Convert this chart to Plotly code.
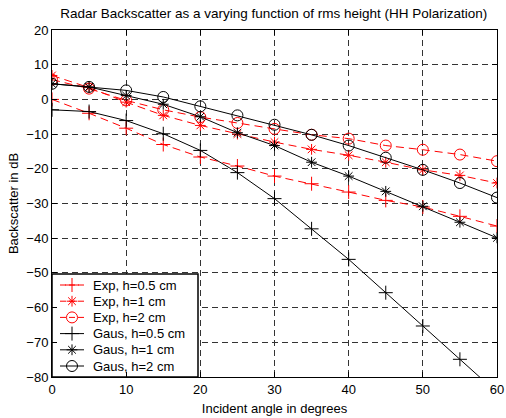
import plotly.graph_objects as go

angles = [0, 5, 10, 15, 20, 25, 30, 35, 40, 45, 50, 55, 60]

exp_h05 = [0.0, -4.0, -8.3, -13.0, -16.6, -19.2, -22.1, -24.3, -26.7, -29.1, -31.0, -33.7, -36.5]
exp_h1 = [6.9, 3.4, -0.8, -4.6, -7.5, -10.0, -12.3, -14.4, -16.1, -18.1, -20.3, -21.9, -24.1]
exp_h2 = [5.7, 3.1, -0.3, -3.0, -5.1, -6.8, -8.5, -10.2, -11.3, -13.3, -14.5, -15.9, -17.8]
gaus_h05 = [-3.0, -3.5, -6.1, -9.9, -14.7, -21.1, -28.6, -37.3, -46.1, -55.7, -65.3, -74.9, -84.5]
gaus_h1 = [4.5, 3.6, 1.1, -1.4, -5.0, -9.6, -13.3, -18.1, -22.1, -26.5, -30.8, -35.4, -39.9]
gaus_h2 = [4.5, 3.6, 2.6, 0.7, -2.0, -4.6, -7.3, -10.2, -13.3, -16.8, -20.3, -24.1, -28.3]

labels = ["Exp, h=0.5 cm", "Exp, h=1 cm", "Exp, h=2 cm",
          "Gaus, h=0.5 cm", "Gaus, h=1 cm", "Gaus, h=2 cm"]

series = [exp_h05, exp_h1, exp_h2, gaus_h05, gaus_h1, gaus_h2]
colors = ["red", "red", "red", "black", "black", "black"]
dashes = ["8px,5px"] * 3 + ["solid"] * 3
symbols = ["cross-thin-open", "asterisk-open", "circle-open",
           "cross-thin-open", "asterisk-open", "circle-open"]
sizes = [10, 9, 11, 10, 9, 11]

FONT = "Liberation Sans, Arial, sans-serif"

# plot-area geometry in pixels (for overlay legend axes)
W, H = 506, 418
L, R, T, B = 52, 9, 30, 41
PX0, PX1 = L, W - R
PY0, PY1 = T, H - B

fig = go.Figure()
for ys, lab, c, d, s, sz in zip(series, labels, colors, dashes, symbols, sizes):
    fig.add_trace(go.Scatter(
        x=angles, y=ys, name=lab, mode="lines+markers",
        line=dict(color=c, width=1, dash=d),
        marker=dict(symbol=s, size=sz, color=c, line=dict(color=c, width=1)),
        showlegend=False,
    ))

# --- custom legend drawn on an overlay axis in pixel units ---
leg_left, leg_right, leg_top, leg_bottom = 52, 198, 274, 377
row0, row_step = 285, 16.2
samp_x0, samp_x1, text_x = 60, 84, 91

fig.add_trace(go.Scatter(
    x=[leg_left, leg_right, leg_right, leg_left, leg_left],
    y=[leg_top, leg_top, leg_bottom, leg_bottom, leg_top],
    mode="lines", fill="toself", fillcolor="white",
    line=dict(color="black", width=1.5),
    xaxis="x2", yaxis="y2", showlegend=False, hoverinfo="skip",
))
for i, (lab, c, d, s, sz) in enumerate(zip(labels, colors, dashes, symbols, sizes)):
    yy = row0 + i * row_step
    fig.add_trace(go.Scatter(
        x=[samp_x0, samp_x1], y=[yy, yy], mode="lines",
        line=dict(color=c, width=1, dash="solid" if d == "solid" else "6px,3px"),
        xaxis="x2", yaxis="y2", showlegend=False, hoverinfo="skip",
    ))
    fig.add_trace(go.Scatter(
        x=[(samp_x0 + samp_x1) / 2], y=[yy], mode="markers",
        marker=dict(symbol=s, size=sz, color=c, line=dict(color=c, width=1)),
        xaxis="x2", yaxis="y2", showlegend=False, hoverinfo="skip",
    ))
    fig.add_annotation(
        x=text_x, y=yy, xref="x2", yref="y2", text=lab, showarrow=False,
        xanchor="left", yanchor="middle",
        font=dict(family=FONT, size=13, color="black"),
    )

axis_common = dict(
    showline=True, linecolor="black", linewidth=1, mirror="ticks",
    ticks="inside", ticklen=5, tickcolor="black",
    showgrid=True, gridcolor="#333333", gridwidth=1, griddash="6px,4px",
    zeroline=False, tickfont=dict(family=FONT, size=13, color="black"),
    dtick=10, automargin=False,
)

fig.update_layout(
    width=W, height=H,
    margin=dict(l=L, r=R, t=T, b=B),
    paper_bgcolor="white", plot_bgcolor="white",
    title=dict(text="Radar Backscatter as a varying function of rms height (HH Polarization)",
               x=0.541, xanchor="center", y=0.968, yanchor="middle",
               font=dict(family=FONT, size=13.5, color="black")),
    xaxis=dict(range=[0, 60], title=dict(text="Incident angle in degrees", standoff=8,
               font=dict(family=FONT, size=13, color="black")), **axis_common),
    yaxis=dict(range=[-80, 20], title=dict(text="Backscatter in dB", standoff=4,
               font=dict(family=FONT, size=13, color="black")), **axis_common),
    xaxis2=dict(overlaying="x", range=[PX0, PX1], visible=False, fixedrange=True),
    yaxis2=dict(overlaying="y", range=[PY1, PY0], visible=False, fixedrange=True),
    showlegend=False,
)

fig.write_html("out.html")
